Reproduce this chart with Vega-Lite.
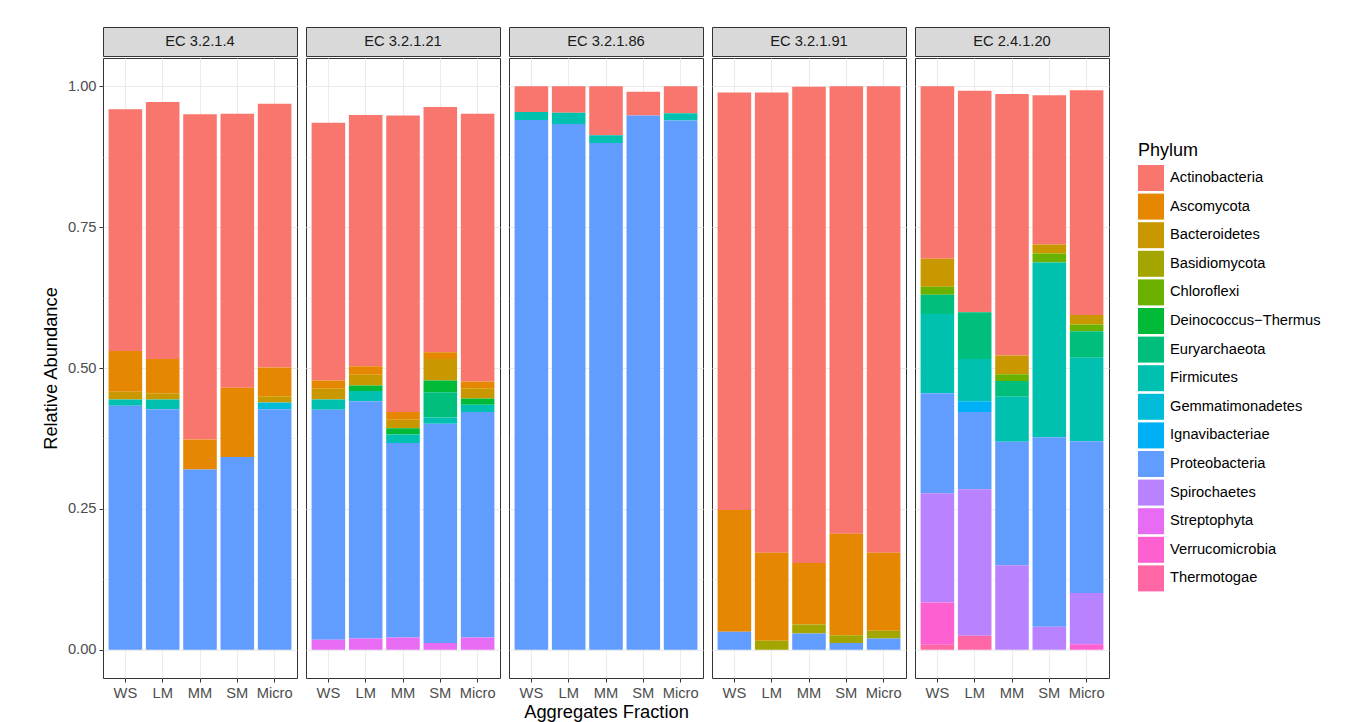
{
  "$schema": "https://vega.github.io/schema/vega-lite/v6.json",
  "autosize": {"type": "pad"},
  "padding": {"left": 40, "top": 26, "right": 5, "bottom": 0},
  "background": "white",
  "datasets": {
    "d": [
      {"EC": "EC 3.2.1.4", "Fraction": "WS", "Phylum": "Actinobacteria", "Abundance": 0.429},
      {"EC": "EC 3.2.1.4", "Fraction": "WS", "Phylum": "Ascomycota", "Abundance": 0.072},
      {"EC": "EC 3.2.1.4", "Fraction": "WS", "Phylum": "Bacteroidetes", "Abundance": 0.014},
      {"EC": "EC 3.2.1.4", "Fraction": "WS", "Phylum": "Firmicutes", "Abundance": 0.011},
      {"EC": "EC 3.2.1.4", "Fraction": "WS", "Phylum": "Proteobacteria", "Abundance": 0.433},
      {"EC": "EC 3.2.1.4", "Fraction": "LM", "Phylum": "Actinobacteria", "Abundance": 0.456},
      {"EC": "EC 3.2.1.4", "Fraction": "LM", "Phylum": "Ascomycota", "Abundance": 0.061},
      {"EC": "EC 3.2.1.4", "Fraction": "LM", "Phylum": "Bacteroidetes", "Abundance": 0.011},
      {"EC": "EC 3.2.1.4", "Fraction": "LM", "Phylum": "Firmicutes", "Abundance": 0.017},
      {"EC": "EC 3.2.1.4", "Fraction": "LM", "Phylum": "Proteobacteria", "Abundance": 0.427},
      {"EC": "EC 3.2.1.4", "Fraction": "MM", "Phylum": "Actinobacteria", "Abundance": 0.577},
      {"EC": "EC 3.2.1.4", "Fraction": "MM", "Phylum": "Ascomycota", "Abundance": 0.053},
      {"EC": "EC 3.2.1.4", "Fraction": "MM", "Phylum": "Proteobacteria", "Abundance": 0.320},
      {"EC": "EC 3.2.1.4", "Fraction": "SM", "Phylum": "Actinobacteria", "Abundance": 0.486},
      {"EC": "EC 3.2.1.4", "Fraction": "SM", "Phylum": "Ascomycota", "Abundance": 0.123},
      {"EC": "EC 3.2.1.4", "Fraction": "SM", "Phylum": "Proteobacteria", "Abundance": 0.342},
      {"EC": "EC 3.2.1.4", "Fraction": "Micro", "Phylum": "Actinobacteria", "Abundance": 0.468},
      {"EC": "EC 3.2.1.4", "Fraction": "Micro", "Phylum": "Ascomycota", "Abundance": 0.051},
      {"EC": "EC 3.2.1.4", "Fraction": "Micro", "Phylum": "Bacteroidetes", "Abundance": 0.011},
      {"EC": "EC 3.2.1.4", "Fraction": "Micro", "Phylum": "Gemmatimonadetes", "Abundance": 0.012},
      {"EC": "EC 3.2.1.4", "Fraction": "Micro", "Phylum": "Proteobacteria", "Abundance": 0.427},

      {"EC": "EC 3.2.1.21", "Fraction": "WS", "Phylum": "Actinobacteria", "Abundance": 0.457},
      {"EC": "EC 3.2.1.21", "Fraction": "WS", "Phylum": "Ascomycota", "Abundance": 0.015},
      {"EC": "EC 3.2.1.21", "Fraction": "WS", "Phylum": "Bacteroidetes", "Abundance": 0.019},
      {"EC": "EC 3.2.1.21", "Fraction": "WS", "Phylum": "Firmicutes", "Abundance": 0.018},
      {"EC": "EC 3.2.1.21", "Fraction": "WS", "Phylum": "Proteobacteria", "Abundance": 0.408},
      {"EC": "EC 3.2.1.21", "Fraction": "WS", "Phylum": "Streptophyta", "Abundance": 0.018},
      {"EC": "EC 3.2.1.21", "Fraction": "LM", "Phylum": "Actinobacteria", "Abundance": 0.446},
      {"EC": "EC 3.2.1.21", "Fraction": "LM", "Phylum": "Ascomycota", "Abundance": 0.015},
      {"EC": "EC 3.2.1.21", "Fraction": "LM", "Phylum": "Bacteroidetes", "Abundance": 0.019},
      {"EC": "EC 3.2.1.21", "Fraction": "LM", "Phylum": "Deinococcus−Thermus", "Abundance": 0.010},
      {"EC": "EC 3.2.1.21", "Fraction": "LM", "Phylum": "Firmicutes", "Abundance": 0.018},
      {"EC": "EC 3.2.1.21", "Fraction": "LM", "Phylum": "Proteobacteria", "Abundance": 0.421},
      {"EC": "EC 3.2.1.21", "Fraction": "LM", "Phylum": "Streptophyta", "Abundance": 0.020},
      {"EC": "EC 3.2.1.21", "Fraction": "MM", "Phylum": "Actinobacteria", "Abundance": 0.526},
      {"EC": "EC 3.2.1.21", "Fraction": "MM", "Phylum": "Ascomycota", "Abundance": 0.014},
      {"EC": "EC 3.2.1.21", "Fraction": "MM", "Phylum": "Bacteroidetes", "Abundance": 0.015},
      {"EC": "EC 3.2.1.21", "Fraction": "MM", "Phylum": "Deinococcus−Thermus", "Abundance": 0.011},
      {"EC": "EC 3.2.1.21", "Fraction": "MM", "Phylum": "Firmicutes", "Abundance": 0.015},
      {"EC": "EC 3.2.1.21", "Fraction": "MM", "Phylum": "Proteobacteria", "Abundance": 0.345},
      {"EC": "EC 3.2.1.21", "Fraction": "MM", "Phylum": "Streptophyta", "Abundance": 0.022},
      {"EC": "EC 3.2.1.21", "Fraction": "SM", "Phylum": "Actinobacteria", "Abundance": 0.435},
      {"EC": "EC 3.2.1.21", "Fraction": "SM", "Phylum": "Ascomycota", "Abundance": 0.012},
      {"EC": "EC 3.2.1.21", "Fraction": "SM", "Phylum": "Bacteroidetes", "Abundance": 0.038},
      {"EC": "EC 3.2.1.21", "Fraction": "SM", "Phylum": "Deinococcus−Thermus", "Abundance": 0.021},
      {"EC": "EC 3.2.1.21", "Fraction": "SM", "Phylum": "Euryarchaeota", "Abundance": 0.045},
      {"EC": "EC 3.2.1.21", "Fraction": "SM", "Phylum": "Firmicutes", "Abundance": 0.011},
      {"EC": "EC 3.2.1.21", "Fraction": "SM", "Phylum": "Proteobacteria", "Abundance": 0.389},
      {"EC": "EC 3.2.1.21", "Fraction": "SM", "Phylum": "Streptophyta", "Abundance": 0.012},
      {"EC": "EC 3.2.1.21", "Fraction": "Micro", "Phylum": "Actinobacteria", "Abundance": 0.475},
      {"EC": "EC 3.2.1.21", "Fraction": "Micro", "Phylum": "Ascomycota", "Abundance": 0.012},
      {"EC": "EC 3.2.1.21", "Fraction": "Micro", "Phylum": "Bacteroidetes", "Abundance": 0.018},
      {"EC": "EC 3.2.1.21", "Fraction": "Micro", "Phylum": "Deinococcus−Thermus", "Abundance": 0.011},
      {"EC": "EC 3.2.1.21", "Fraction": "Micro", "Phylum": "Firmicutes", "Abundance": 0.013},
      {"EC": "EC 3.2.1.21", "Fraction": "Micro", "Phylum": "Proteobacteria", "Abundance": 0.400},
      {"EC": "EC 3.2.1.21", "Fraction": "Micro", "Phylum": "Streptophyta", "Abundance": 0.022},

      {"EC": "EC 3.2.1.86", "Fraction": "WS", "Phylum": "Actinobacteria", "Abundance": 0.046},
      {"EC": "EC 3.2.1.86", "Fraction": "WS", "Phylum": "Firmicutes", "Abundance": 0.014},
      {"EC": "EC 3.2.1.86", "Fraction": "WS", "Phylum": "Proteobacteria", "Abundance": 0.940},
      {"EC": "EC 3.2.1.86", "Fraction": "LM", "Phylum": "Actinobacteria", "Abundance": 0.047},
      {"EC": "EC 3.2.1.86", "Fraction": "LM", "Phylum": "Firmicutes", "Abundance": 0.020},
      {"EC": "EC 3.2.1.86", "Fraction": "LM", "Phylum": "Proteobacteria", "Abundance": 0.933},
      {"EC": "EC 3.2.1.86", "Fraction": "MM", "Phylum": "Actinobacteria", "Abundance": 0.087},
      {"EC": "EC 3.2.1.86", "Fraction": "MM", "Phylum": "Firmicutes", "Abundance": 0.014},
      {"EC": "EC 3.2.1.86", "Fraction": "MM", "Phylum": "Proteobacteria", "Abundance": 0.899},
      {"EC": "EC 3.2.1.86", "Fraction": "SM", "Phylum": "Actinobacteria", "Abundance": 0.042},
      {"EC": "EC 3.2.1.86", "Fraction": "SM", "Phylum": "Proteobacteria", "Abundance": 0.948},
      {"EC": "EC 3.2.1.86", "Fraction": "Micro", "Phylum": "Actinobacteria", "Abundance": 0.048},
      {"EC": "EC 3.2.1.86", "Fraction": "Micro", "Phylum": "Firmicutes", "Abundance": 0.013},
      {"EC": "EC 3.2.1.86", "Fraction": "Micro", "Phylum": "Proteobacteria", "Abundance": 0.939},

      {"EC": "EC 3.2.1.91", "Fraction": "WS", "Phylum": "Actinobacteria", "Abundance": 0.741},
      {"EC": "EC 3.2.1.91", "Fraction": "WS", "Phylum": "Ascomycota", "Abundance": 0.216},
      {"EC": "EC 3.2.1.91", "Fraction": "WS", "Phylum": "Proteobacteria", "Abundance": 0.032},
      {"EC": "EC 3.2.1.91", "Fraction": "LM", "Phylum": "Actinobacteria", "Abundance": 0.817},
      {"EC": "EC 3.2.1.91", "Fraction": "LM", "Phylum": "Ascomycota", "Abundance": 0.156},
      {"EC": "EC 3.2.1.91", "Fraction": "LM", "Phylum": "Basidiomycota", "Abundance": 0.016},
      {"EC": "EC 3.2.1.91", "Fraction": "MM", "Phylum": "Actinobacteria", "Abundance": 0.845},
      {"EC": "EC 3.2.1.91", "Fraction": "MM", "Phylum": "Ascomycota", "Abundance": 0.109},
      {"EC": "EC 3.2.1.91", "Fraction": "MM", "Phylum": "Basidiomycota", "Abundance": 0.016},
      {"EC": "EC 3.2.1.91", "Fraction": "MM", "Phylum": "Proteobacteria", "Abundance": 0.029},
      {"EC": "EC 3.2.1.91", "Fraction": "SM", "Phylum": "Actinobacteria", "Abundance": 0.794},
      {"EC": "EC 3.2.1.91", "Fraction": "SM", "Phylum": "Ascomycota", "Abundance": 0.180},
      {"EC": "EC 3.2.1.91", "Fraction": "SM", "Phylum": "Basidiomycota", "Abundance": 0.014},
      {"EC": "EC 3.2.1.91", "Fraction": "SM", "Phylum": "Proteobacteria", "Abundance": 0.012},
      {"EC": "EC 3.2.1.91", "Fraction": "Micro", "Phylum": "Actinobacteria", "Abundance": 0.828},
      {"EC": "EC 3.2.1.91", "Fraction": "Micro", "Phylum": "Ascomycota", "Abundance": 0.138},
      {"EC": "EC 3.2.1.91", "Fraction": "Micro", "Phylum": "Basidiomycota", "Abundance": 0.014},
      {"EC": "EC 3.2.1.91", "Fraction": "Micro", "Phylum": "Proteobacteria", "Abundance": 0.020},

      {"EC": "EC 2.4.1.20", "Fraction": "WS", "Phylum": "Actinobacteria", "Abundance": 0.306},
      {"EC": "EC 2.4.1.20", "Fraction": "WS", "Phylum": "Bacteroidetes", "Abundance": 0.050},
      {"EC": "EC 2.4.1.20", "Fraction": "WS", "Phylum": "Chloroflexi", "Abundance": 0.014},
      {"EC": "EC 2.4.1.20", "Fraction": "WS", "Phylum": "Euryarchaeota", "Abundance": 0.034},
      {"EC": "EC 2.4.1.20", "Fraction": "WS", "Phylum": "Firmicutes", "Abundance": 0.141},
      {"EC": "EC 2.4.1.20", "Fraction": "WS", "Phylum": "Proteobacteria", "Abundance": 0.177},
      {"EC": "EC 2.4.1.20", "Fraction": "WS", "Phylum": "Spirochaetes", "Abundance": 0.194},
      {"EC": "EC 2.4.1.20", "Fraction": "WS", "Phylum": "Verrucomicrobia", "Abundance": 0.075},
      {"EC": "EC 2.4.1.20", "Fraction": "WS", "Phylum": "Thermotogae", "Abundance": 0.009},
      {"EC": "EC 2.4.1.20", "Fraction": "LM", "Phylum": "Actinobacteria", "Abundance": 0.393},
      {"EC": "EC 2.4.1.20", "Fraction": "LM", "Phylum": "Euryarchaeota", "Abundance": 0.083},
      {"EC": "EC 2.4.1.20", "Fraction": "LM", "Phylum": "Firmicutes", "Abundance": 0.075},
      {"EC": "EC 2.4.1.20", "Fraction": "LM", "Phylum": "Ignavibacteriae", "Abundance": 0.019},
      {"EC": "EC 2.4.1.20", "Fraction": "LM", "Phylum": "Proteobacteria", "Abundance": 0.137},
      {"EC": "EC 2.4.1.20", "Fraction": "LM", "Phylum": "Spirochaetes", "Abundance": 0.260},
      {"EC": "EC 2.4.1.20", "Fraction": "LM", "Phylum": "Thermotogae", "Abundance": 0.025},
      {"EC": "EC 2.4.1.20", "Fraction": "MM", "Phylum": "Actinobacteria", "Abundance": 0.464},
      {"EC": "EC 2.4.1.20", "Fraction": "MM", "Phylum": "Bacteroidetes", "Abundance": 0.033},
      {"EC": "EC 2.4.1.20", "Fraction": "MM", "Phylum": "Chloroflexi", "Abundance": 0.012},
      {"EC": "EC 2.4.1.20", "Fraction": "MM", "Phylum": "Euryarchaeota", "Abundance": 0.028},
      {"EC": "EC 2.4.1.20", "Fraction": "MM", "Phylum": "Firmicutes", "Abundance": 0.080},
      {"EC": "EC 2.4.1.20", "Fraction": "MM", "Phylum": "Proteobacteria", "Abundance": 0.219},
      {"EC": "EC 2.4.1.20", "Fraction": "MM", "Phylum": "Spirochaetes", "Abundance": 0.150},
      {"EC": "EC 2.4.1.20", "Fraction": "SM", "Phylum": "Actinobacteria", "Abundance": 0.265},
      {"EC": "EC 2.4.1.20", "Fraction": "SM", "Phylum": "Bacteroidetes", "Abundance": 0.016},
      {"EC": "EC 2.4.1.20", "Fraction": "SM", "Phylum": "Chloroflexi", "Abundance": 0.016},
      {"EC": "EC 2.4.1.20", "Fraction": "SM", "Phylum": "Firmicutes", "Abundance": 0.310},
      {"EC": "EC 2.4.1.20", "Fraction": "SM", "Phylum": "Proteobacteria", "Abundance": 0.336},
      {"EC": "EC 2.4.1.20", "Fraction": "SM", "Phylum": "Spirochaetes", "Abundance": 0.041},
      {"EC": "EC 2.4.1.20", "Fraction": "Micro", "Phylum": "Actinobacteria", "Abundance": 0.399},
      {"EC": "EC 2.4.1.20", "Fraction": "Micro", "Phylum": "Bacteroidetes", "Abundance": 0.017},
      {"EC": "EC 2.4.1.20", "Fraction": "Micro", "Phylum": "Chloroflexi", "Abundance": 0.012},
      {"EC": "EC 2.4.1.20", "Fraction": "Micro", "Phylum": "Euryarchaeota", "Abundance": 0.047},
      {"EC": "EC 2.4.1.20", "Fraction": "Micro", "Phylum": "Firmicutes", "Abundance": 0.148},
      {"EC": "EC 2.4.1.20", "Fraction": "Micro", "Phylum": "Proteobacteria", "Abundance": 0.269},
      {"EC": "EC 2.4.1.20", "Fraction": "Micro", "Phylum": "Spirochaetes", "Abundance": 0.091},
      {"EC": "EC 2.4.1.20", "Fraction": "Micro", "Phylum": "Verrucomicrobia", "Abundance": 0.010}
    ]
  },
  "config": {
    "font": "Liberation Sans",
    "view": {"stroke": "#333333"},
    "axis": {
      "labelFont": "Liberation Sans", "labelFontSize": 14.7, "labelColor": "#4D4D4D",
      "tickColor": "#333333", "tickSize": 4, "domain": false,
      "gridColor": "#EBEBEB", "titleFont": "Liberation Sans", "titleFontSize": 18.3,
      "titleFontWeight": "normal", "titleColor": "#000000", "labelPadding": 3
    },
    "legend": {
      "orient": "none", "legendX": 1035, "legendY": 115,
      "titleFont": "Liberation Sans", "titleFontSize": 18, "titleFontWeight": "normal", "titleColor": "#000000",
      "labelFont": "Liberation Sans", "labelFontSize": 14.7, "labelColor": "#000000",
      "symbolType": "square", "symbolSize": 676, "symbolStrokeWidth": 0, "symbolOpacity": 1,
      "rowPadding": 2.6, "labelOffset": 6, "titlePadding": 5
    },
    "range": {"category": ["#F8766D", "#E58700", "#C99800", "#A3A500", "#6BB100", "#00BA38", "#00BF7D", "#00C0AF", "#00BCD8", "#00B0F6", "#619CFF", "#B983FF", "#E76BF3", "#FD61D1", "#FF67A4"]}
  },
  "spacing": 7,
  "hconcat": [
    {
      "spacing": 0,
      "vconcat": [
        {"width": 194, "height": 29, "data": {"values": [{"EC": "EC 3.2.1.4"}]}, "mark": {"type": "text", "fontSize": 14.7, "color": "#1A1A1A"}, "encoding": {"text": {"field": "EC"}}, "view": {"fill": "#D9D9D9", "stroke": "#333333"}},
        {
          "width": 194, "height": 620,
          "data": {"name": "d"},
          "transform": [{"filter": "datum.EC === 'EC 3.2.1.4'"}, {"calculate": "indexof(['Actinobacteria','Ascomycota','Bacteroidetes','Basidiomycota','Chloroflexi','Deinococcus−Thermus','Euryarchaeota','Firmicutes','Gemmatimonadetes','Ignavibacteriae','Proteobacteria','Spirochaetes','Streptophyta','Verrucomicrobia','Thermotogae'], datum.Phylum)", "as": "StackRank"}],
          "mark": {"type": "bar"},
          "encoding": {
            "x": {"field": "Fraction", "type": "nominal", "sort": ["WS", "LM", "MM", "SM", "Micro"], "scale": {"paddingInner": 0.1, "paddingOuter": 0.15}, "axis": {"title": null, "labelAngle": 0, "grid": true, "gridWidth": 1.1, "bandPosition": 0.5}},
            "y": {"field": "Abundance", "type": "quantitative", "stack": "zero", "scale": {"domain": [-0.05, 1.05], "nice": false, "zero": false},
                  "axis": {"title": "Relative Abundance", "titlePadding": 7, "values": [0, 0.125, 0.25, 0.375, 0.5, 0.625, 0.75, 0.875, 1],
                           "labelExpr": "round(datum.value*8) % 2 === 0 ? format(datum.value, '.2f') : ''",
                           "gridWidth": {"condition": {"test": "round(datum.value*8) % 2 === 0", "value": 1.1}, "value": 0.55},
                           "tickOpacity": {"condition": {"test": "round(datum.value*8) % 2 === 0", "value": 1}, "value": 0}}},
            "color": {"field": "Phylum", "type": "nominal", "title": "Phylum", "sort": ["Actinobacteria", "Ascomycota", "Bacteroidetes", "Basidiomycota", "Chloroflexi", "Deinococcus−Thermus", "Euryarchaeota", "Firmicutes", "Gemmatimonadetes", "Ignavibacteriae", "Proteobacteria", "Spirochaetes", "Streptophyta", "Verrucomicrobia", "Thermotogae"]},
            "order": {"field": "StackRank", "type": "quantitative", "sort": "descending"}
          }
        }
      ]
    },
    {
      "spacing": 0,
      "vconcat": [
        {"width": 194, "height": 29, "data": {"values": [{"EC": "EC 3.2.1.21"}]}, "mark": {"type": "text", "fontSize": 14.7, "color": "#1A1A1A"}, "encoding": {"text": {"field": "EC"}}, "view": {"fill": "#D9D9D9", "stroke": "#333333"}},
        {
          "width": 194, "height": 620,
          "data": {"name": "d"},
          "transform": [{"filter": "datum.EC === 'EC 3.2.1.21'"}, {"calculate": "indexof(['Actinobacteria','Ascomycota','Bacteroidetes','Basidiomycota','Chloroflexi','Deinococcus−Thermus','Euryarchaeota','Firmicutes','Gemmatimonadetes','Ignavibacteriae','Proteobacteria','Spirochaetes','Streptophyta','Verrucomicrobia','Thermotogae'], datum.Phylum)", "as": "StackRank"}],
          "mark": {"type": "bar"},
          "encoding": {
            "x": {"field": "Fraction", "type": "nominal", "sort": ["WS", "LM", "MM", "SM", "Micro"], "scale": {"paddingInner": 0.1, "paddingOuter": 0.15}, "axis": {"title": null, "labelAngle": 0, "grid": true, "gridWidth": 1.1, "bandPosition": 0.5}},
            "y": {"field": "Abundance", "type": "quantitative", "stack": "zero", "scale": {"domain": [-0.05, 1.05], "nice": false, "zero": false},
                  "axis": {"title": null, "labels": false, "ticks": false, "values": [0, 0.125, 0.25, 0.375, 0.5, 0.625, 0.75, 0.875, 1],
                           "gridWidth": {"condition": {"test": "round(datum.value*8) % 2 === 0", "value": 1.1}, "value": 0.55}}},
            "color": {"field": "Phylum", "type": "nominal", "title": "Phylum", "sort": ["Actinobacteria", "Ascomycota", "Bacteroidetes", "Basidiomycota", "Chloroflexi", "Deinococcus−Thermus", "Euryarchaeota", "Firmicutes", "Gemmatimonadetes", "Ignavibacteriae", "Proteobacteria", "Spirochaetes", "Streptophyta", "Verrucomicrobia", "Thermotogae"]},
            "order": {"field": "StackRank", "type": "quantitative", "sort": "descending"}
          }
        }
      ]
    },
    {
      "spacing": 0,
      "vconcat": [
        {"width": 194, "height": 29, "data": {"values": [{"EC": "EC 3.2.1.86"}]}, "mark": {"type": "text", "fontSize": 14.7, "color": "#1A1A1A"}, "encoding": {"text": {"field": "EC"}}, "view": {"fill": "#D9D9D9", "stroke": "#333333"}},
        {
          "width": 194, "height": 620,
          "data": {"name": "d"},
          "transform": [{"filter": "datum.EC === 'EC 3.2.1.86'"}, {"calculate": "indexof(['Actinobacteria','Ascomycota','Bacteroidetes','Basidiomycota','Chloroflexi','Deinococcus−Thermus','Euryarchaeota','Firmicutes','Gemmatimonadetes','Ignavibacteriae','Proteobacteria','Spirochaetes','Streptophyta','Verrucomicrobia','Thermotogae'], datum.Phylum)", "as": "StackRank"}],
          "mark": {"type": "bar"},
          "encoding": {
            "x": {"field": "Fraction", "type": "nominal", "sort": ["WS", "LM", "MM", "SM", "Micro"], "scale": {"paddingInner": 0.1, "paddingOuter": 0.15}, "axis": {"title": "Aggregates Fraction", "titlePadding": 4, "labelAngle": 0, "grid": true, "gridWidth": 1.1, "bandPosition": 0.5}},
            "y": {"field": "Abundance", "type": "quantitative", "stack": "zero", "scale": {"domain": [-0.05, 1.05], "nice": false, "zero": false},
                  "axis": {"title": null, "labels": false, "ticks": false, "values": [0, 0.125, 0.25, 0.375, 0.5, 0.625, 0.75, 0.875, 1],
                           "gridWidth": {"condition": {"test": "round(datum.value*8) % 2 === 0", "value": 1.1}, "value": 0.55}}},
            "color": {"field": "Phylum", "type": "nominal", "title": "Phylum", "sort": ["Actinobacteria", "Ascomycota", "Bacteroidetes", "Basidiomycota", "Chloroflexi", "Deinococcus−Thermus", "Euryarchaeota", "Firmicutes", "Gemmatimonadetes", "Ignavibacteriae", "Proteobacteria", "Spirochaetes", "Streptophyta", "Verrucomicrobia", "Thermotogae"]},
            "order": {"field": "StackRank", "type": "quantitative", "sort": "descending"}
          }
        }
      ]
    },
    {
      "spacing": 0,
      "vconcat": [
        {"width": 194, "height": 29, "data": {"values": [{"EC": "EC 3.2.1.91"}]}, "mark": {"type": "text", "fontSize": 14.7, "color": "#1A1A1A"}, "encoding": {"text": {"field": "EC"}}, "view": {"fill": "#D9D9D9", "stroke": "#333333"}},
        {
          "width": 194, "height": 620,
          "data": {"name": "d"},
          "transform": [{"filter": "datum.EC === 'EC 3.2.1.91'"}, {"calculate": "indexof(['Actinobacteria','Ascomycota','Bacteroidetes','Basidiomycota','Chloroflexi','Deinococcus−Thermus','Euryarchaeota','Firmicutes','Gemmatimonadetes','Ignavibacteriae','Proteobacteria','Spirochaetes','Streptophyta','Verrucomicrobia','Thermotogae'], datum.Phylum)", "as": "StackRank"}],
          "mark": {"type": "bar"},
          "encoding": {
            "x": {"field": "Fraction", "type": "nominal", "sort": ["WS", "LM", "MM", "SM", "Micro"], "scale": {"paddingInner": 0.1, "paddingOuter": 0.15}, "axis": {"title": null, "labelAngle": 0, "grid": true, "gridWidth": 1.1, "bandPosition": 0.5}},
            "y": {"field": "Abundance", "type": "quantitative", "stack": "zero", "scale": {"domain": [-0.05, 1.05], "nice": false, "zero": false},
                  "axis": {"title": null, "labels": false, "ticks": false, "values": [0, 0.125, 0.25, 0.375, 0.5, 0.625, 0.75, 0.875, 1],
                           "gridWidth": {"condition": {"test": "round(datum.value*8) % 2 === 0", "value": 1.1}, "value": 0.55}}},
            "color": {"field": "Phylum", "type": "nominal", "title": "Phylum", "sort": ["Actinobacteria", "Ascomycota", "Bacteroidetes", "Basidiomycota", "Chloroflexi", "Deinococcus−Thermus", "Euryarchaeota", "Firmicutes", "Gemmatimonadetes", "Ignavibacteriae", "Proteobacteria", "Spirochaetes", "Streptophyta", "Verrucomicrobia", "Thermotogae"]},
            "order": {"field": "StackRank", "type": "quantitative", "sort": "descending"}
          }
        }
      ]
    },
    {
      "spacing": 0,
      "vconcat": [
        {"width": 194, "height": 29, "data": {"values": [{"EC": "EC 2.4.1.20"}]}, "mark": {"type": "text", "fontSize": 14.7, "color": "#1A1A1A"}, "encoding": {"text": {"field": "EC"}}, "view": {"fill": "#D9D9D9", "stroke": "#333333"}},
        {
          "width": 194, "height": 620,
          "data": {"name": "d"},
          "transform": [{"filter": "datum.EC === 'EC 2.4.1.20'"}, {"calculate": "indexof(['Actinobacteria','Ascomycota','Bacteroidetes','Basidiomycota','Chloroflexi','Deinococcus−Thermus','Euryarchaeota','Firmicutes','Gemmatimonadetes','Ignavibacteriae','Proteobacteria','Spirochaetes','Streptophyta','Verrucomicrobia','Thermotogae'], datum.Phylum)", "as": "StackRank"}],
          "mark": {"type": "bar"},
          "encoding": {
            "x": {"field": "Fraction", "type": "nominal", "sort": ["WS", "LM", "MM", "SM", "Micro"], "scale": {"paddingInner": 0.1, "paddingOuter": 0.15}, "axis": {"title": null, "labelAngle": 0, "grid": true, "gridWidth": 1.1, "bandPosition": 0.5}},
            "y": {"field": "Abundance", "type": "quantitative", "stack": "zero", "scale": {"domain": [-0.05, 1.05], "nice": false, "zero": false},
                  "axis": {"title": null, "labels": false, "ticks": false, "values": [0, 0.125, 0.25, 0.375, 0.5, 0.625, 0.75, 0.875, 1],
                           "gridWidth": {"condition": {"test": "round(datum.value*8) % 2 === 0", "value": 1.1}, "value": 0.55}}},
            "color": {"field": "Phylum", "type": "nominal", "title": "Phylum", "sort": ["Actinobacteria", "Ascomycota", "Bacteroidetes", "Basidiomycota", "Chloroflexi", "Deinococcus−Thermus", "Euryarchaeota", "Firmicutes", "Gemmatimonadetes", "Ignavibacteriae", "Proteobacteria", "Spirochaetes", "Streptophyta", "Verrucomicrobia", "Thermotogae"]},
            "order": {"field": "StackRank", "type": "quantitative", "sort": "descending"}
          }
        }
      ]
    }
  ]
}
